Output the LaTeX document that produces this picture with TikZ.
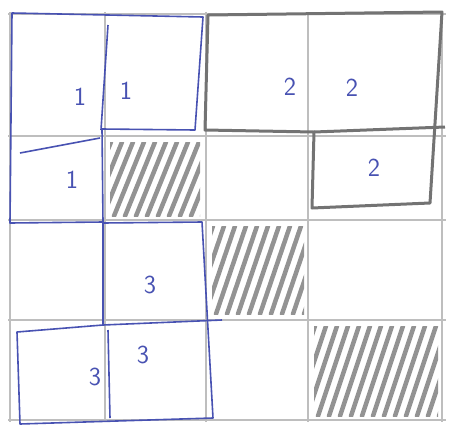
\documentclass[tikz,border=0pt]{standalone}
\usepackage{tikz}
\usetikzlibrary{positioning}

\definecolor{penblue}{RGB}{72,82,178}
\definecolor{pencil}{RGB}{190,190,190}
\definecolor{darkpencil}{RGB}{115,115,115}

\begin{document}
\begin{tikzpicture}[
x=1pt, y=-1pt,
grid/.style={pencil, line width=1.4pt},
bluepiece/.style={penblue, line width=1.6pt, line join=round},
graypiece/.style={darkpencil, line width=3pt, line join=round},
hatch/.style={gray, line width=4.5pt, line cap=round, opacity=0.85},
every node/.style={
text=penblue,
font=\sffamily\fontsize{26}{26}\selectfont,
inner sep=0pt
}
]

\useasboundingbox (0,0) rectangle (469,432);

% pencil grid
\foreach \gx in {10,105,206,308,442}
  \draw[grid] (\gx,12) -- (\gx,422);
\foreach \gy in {14,136,220,320,420}
  \draw[grid] (8,\gy) -- (446,\gy);

% hatched cells
\foreach \cx/\cy/\cw/\ch in {110/142/90/74, 212/226/92/88, 314/326/124/90}{
  \begin{scope}
    \clip (\cx,\cy) rectangle ++(\cw,\ch);
    \foreach \k in {-40,-29,...,130}
      \draw[hatch] (\cx+\k,\cy+\ch) -- ++(30,-\ch);
  \end{scope}
}

% piece 1
\draw[bluepiece] (12,13) -- (203,17) -- (195,130) -- (102,129) -- (103,222)
  -- (10,223) -- cycle;
\draw[bluepiece] (108,25) -- (101,130);
\draw[bluepiece] (20,153) -- (100,138);

% piece 3
\draw[bluepiece] (103,223) -- (202,222) -- (213,418) -- (20,424) -- (17,332)
  -- (103,325) -- cycle;
\draw[bluepiece] (103,325) -- (222,320);
\draw[bluepiece] (108,330) -- (110,418);

% piece 2
\draw[graypiece] (208,15) -- (442,12) -- (430,203) -- (312,208) -- (314,132)
  -- (205,130) -- cycle;
\draw[graypiece] (314,132) -- (445,127);

% labels
\node (one-a) at (80,97) {1};
\node (one-b) at (126,91) {1};
\node (one-c) at (72,180) {1};
\node (two-a) at (290,87) {2};
\node (two-b) at (352,88) {2};
\node (two-c) at (374,168) {2};
\node (three-a) at (150,285) {3};
\node (three-b) at (95,377) {3};
\node (three-c) at (143,355) {3};

\end{tikzpicture}
\end{document}
